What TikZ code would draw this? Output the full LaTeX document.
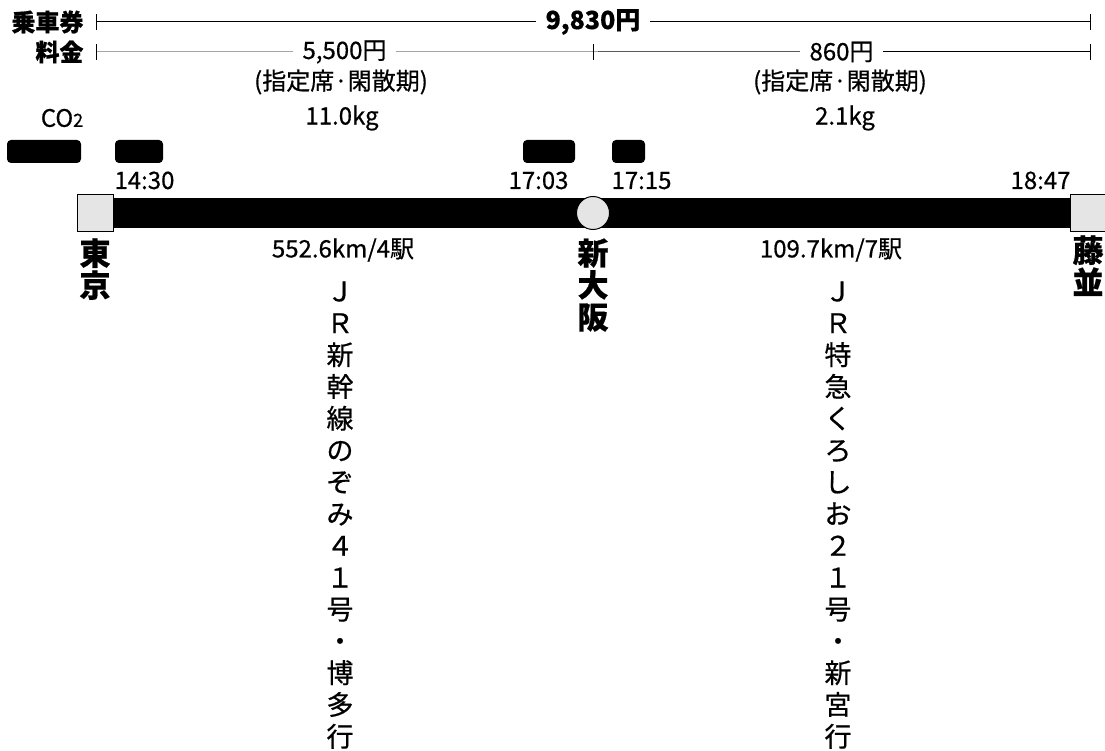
\documentclass[tikz,border=0pt]{standalone}
\usepackage{fontspec}
\setmainfont{Noto Sans CJK JP}[FakeBold=0.6]
\usetikzlibrary{positioning}
\usetikzlibrary{backgrounds}

\tikzset{
  fare/.style={fill=white, inner xsep=10pt, inner ysep=2pt, font=\fontsize{24}{26}\selectfont},
  note/.style={inner sep=0pt, font=\fontsize{24}{26}\selectfont},
  blot/.style={fill=black, rounded corners=4pt, inner sep=0pt, minimum height=23pt},
  stop/.style={draw, line width=1pt, fill=black!10, minimum width=36pt, minimum height=37pt, inner sep=0pt},
  change/.style={draw, line width=1pt, circle, fill=black!10, minimum size=33pt, inner sep=0pt},
  stname/.style={anchor=north, inner sep=0pt, align=center, font=\bfseries\fontsize{31}{32}\selectfont},
  train/.style={anchor=north, inner sep=0pt, align=center, font=\fontsize{27}{31.8}\selectfont},
}

\begin{document}
\begin{tikzpicture}[x=1pt, y=1pt, line width=1pt]
		\useasboundingbox (0,0) rectangle (1105,751);
		
		% fare rows
		\coordinate (t0) at (96,729);
		\coordinate (t1) at (1090,729);
		\coordinate (f0) at (96,699);
		\coordinate (fm) at (593,699);
		\coordinate (f1) at (1090,699);
		\draw (t0) -- node[fare, font=\bfseries\fontsize{25}{26}\selectfont] {9,830円} (t1);
		\draw (f0) -- node[fare] (fareA) {5,500円} (fm) -- node[fare] (fareB) {860円} (f1);
		
		% draw vertical ticks
		\foreach \x in {96,1090}
		\draw (\x,721) -- (\x,737);
		\foreach \x in {96,593,1090}
		\draw (\x,691) -- (\x,707);
		
		\node[left=12pt of t0, inner sep=0pt, font=\bfseries\fontsize{24}{26}\selectfont] {乗車券};
		\node[left=12pt of f0, inner sep=0pt, font=\bfseries\fontsize{24}{26}\selectfont] {料金};
		\node[note] at (341,669) {(指定席·閑散期)};
		\node[note] at (840,669) {(指定席·閑散期)};
		
		% CO2 row
		\node[note] at (62,633) {CO{\fontsize{18}{18}\selectfont 2}};
		\node[note] at (342,633) {11.0kg};
		\node[note] at (845,633) {2.1kg};
		
		% black blots
		\node[blot, minimum width=74pt] at (44,599.5) {};
		\node[blot, minimum width=48pt] at (139,599.5) {};
		\node[blot, minimum width=52pt] at (549,599.5) {};
		\node[blot, minimum width=33pt] at (628.5,599.5) {};
		
		% draw stations
		\node[stop] (tokyo) at (95,538) {};
		\node[change] (osaka) at (593,538) {};
		\node[stop] (fujinami) at (1088,538) {};
		\begin{scope}[on background layer]
		\draw[line width=30pt] (tokyo.east) -- (fujinami.west);
		\end{scope}
		
		% times
		\node[note, anchor=base west] at (114,562) {14:30};
		\node[note, anchor=base east] at (569,562) {17:03};
		\node[note, anchor=base west] at (611,562) {17:15};
		\node[note, anchor=base east] at (1071,562) {18:47};
		
		% station names
		\node[stname] at ([yshift=-6pt]tokyo.south) {東\\京};
		\node[stname] at ([yshift=-8pt]osaka.south) {新\\大\\阪};
		\node[stname] at ([yshift=-3pt]fujinami.south) {藤\\並};
		
		% legs
		\node[note] at (343,501) {552.6km/4駅};
		\node[note] at (831,501) {109.7km/7駅};
		\node[train] at (340,470) {Ｊ\\Ｒ\\新\\幹\\線\\の\\ぞ\\み\\４\\１\\号\\・\\博\\多\\行};
		\node[train] at (838,470) {Ｊ\\Ｒ\\特\\急\\く\\ろ\\し\\お\\２\\１\\号\\・\\新\\宮\\行};
		
\end{tikzpicture}
\end{document}
